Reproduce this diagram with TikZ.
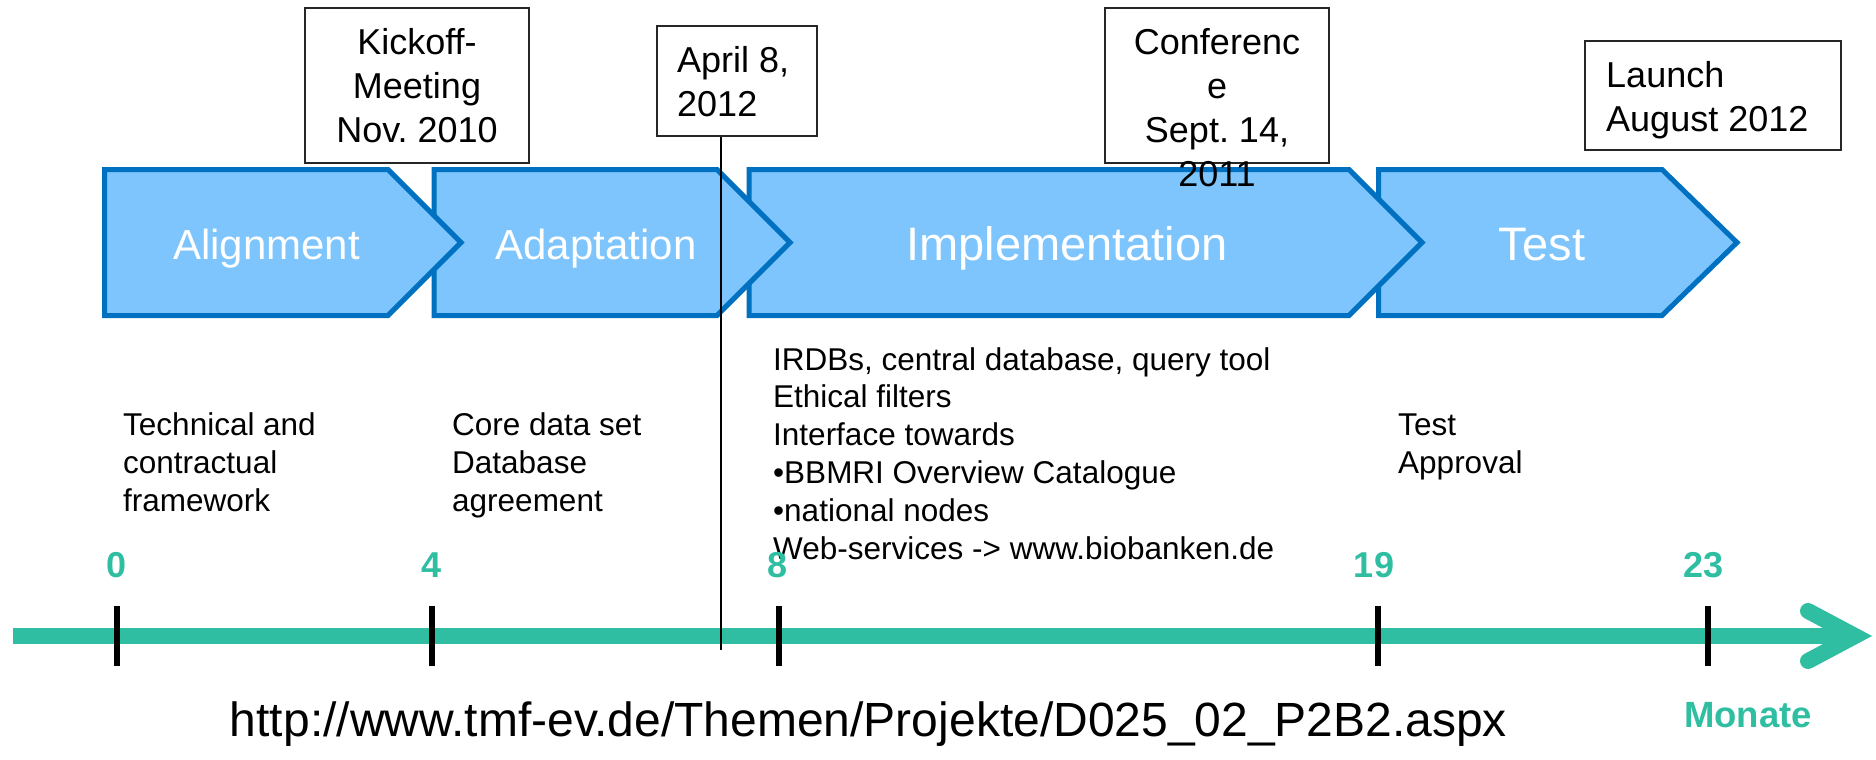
\documentclass[tikz,border=0pt]{standalone}
\usepackage{fontspec}
\setmainfont{Liberation Sans}
\frenchspacing
\definecolor{chfill}{RGB}{125,197,252}
\definecolor{chline}{RGB}{0,112,192}
\definecolor{axgreen}{RGB}{47,190,161}
\begin{document}
\frenchspacing
\begin{tikzpicture}[x=1pt,y=-1pt,
  chev/.style={fill=chfill, draw=chline, line width=5pt, line join=miter},
  chevtext/.style={text=white, inner sep=0pt, anchor=base},
  datebox/.style={draw=black!85, line width=1.6pt, fill=white, inner sep=0pt},
  boxtext/.style={inner sep=0pt, font=\fontsize{36}{44}\selectfont},
  lowtext/.style={inner sep=0pt, anchor=base west, font=\fontsize{31.5}{38}\selectfont},
  num/.style={inner sep=0pt, anchor=base, text=axgreen, font=\bfseries\fontsize{36}{40}\selectfont},
  tickmark/.style={line width=6pt},
  axis/.style={draw=axgreen, line width=16pt}
]
\useasboundingbox (0,0) rectangle (1876,760);

% chevrons (later phases underneath)
\path[chev] (1378.5,169.5) -- (1662,169.5) -- (1737,242.5) -- (1662,315.5) -- (1378.5,315.5) -- cycle;
\path[chev] (749,169.5) -- (1349,169.5) -- (1422,242.5) -- (1349,315.5) -- (749,315.5) -- cycle;
\path[chev] (434,169.5) -- (717,169.5) -- (790,242.5) -- (717,315.5) -- (434,315.5) -- cycle;
\path[chev] (104.5,169.5) -- (388,169.5) -- (461,242.5) -- (388,315.5) -- (104.5,315.5) -- cycle;

\node[chevtext, font=\fontsize{42}{50}\selectfont] (talign) at (266.5,259) {Alignment};
\node[chevtext, font=\fontsize{42}{50}\selectfont] (tadapt) at (596,259) {Adaptation};
\node[chevtext, font=\fontsize{47}{55}\selectfont] (timpl) at (1067,260) {Implementation};
\node[chevtext, font=\fontsize{47}{55}\selectfont] (ttest) at (1542,260) {Test};

% date boxes
\node[datebox, minimum width=224pt, minimum height=155pt] (kickbox) at (417,85.5) {};
\node[datebox, minimum width=160pt, minimum height=110pt] (aprilbox) at (737,81) {};
\node[datebox, minimum width=224pt, minimum height=155pt] (confbox) at (1217,85.5) {};
\node[datebox, minimum width=256pt, minimum height=109pt] (launchbox) at (1713,95.5) {};

\node[boxtext, anchor=base] (kicktxt) at (417,55) {\begin{tabular}[t]{@{}c@{}}Kickoff-\\Meeting\\Nov.\ 2010\end{tabular}};
\node[boxtext, anchor=base west] (apriltxt) at (677,72) {\begin{tabular}[t]{@{}l@{}}April 8,\\2012\end{tabular}};
\node[boxtext, anchor=base] (conftxt) at (1217,55) {\begin{tabular}[t]{@{}c@{}}Conferenc\\e\\Sept.\ 14,\\2011\end{tabular}};
\node[boxtext, anchor=base west] (launchtxt) at (1606,87) {\begin{tabular}[t]{@{}l@{}}Launch\\August 2012\end{tabular}};

% descriptions
\node[lowtext] (d1) at (123,435) {\begin{tabular}[t]{@{}l@{}}Technical and\\contractual\\framework\end{tabular}};
\node[lowtext] (d2) at (452,435) {\begin{tabular}[t]{@{}l@{}}Core data set\\Database\\agreement\end{tabular}};
\node[lowtext, font=\fontsize{31.5}{37.8}\selectfont] (d3) at (773,370) {\begin{tabular}[t]{@{}l@{}}IRDBs, central database, query tool\\Ethical filters\\Interface towards\\•BBMRI Overview Catalogue\\•national nodes\\Web-services -> www.biobanken.de\end{tabular}};
\node[lowtext] (d4) at (1398,435) {\begin{tabular}[t]{@{}l@{}}Test\\Approval\end{tabular}};

% time axis
\coordinate (axstart) at (12.7,636);
\coordinate (axend) at (1850,636);
\coordinate (headtop) at (1808,611);
\coordinate (headtip) at (1855,636);
\coordinate (headbot) at (1808,661);
\draw[axis] (axstart) -- (axend);
\draw[axis, line cap=round, line join=miter, miter limit=10] (headtop) -- (headtip) -- (headbot);

\foreach \x in {117,432,779,1378,1708} {
  \draw[tickmark] (\x,606) -- (\x,666);
}

\node[num] (n0) at (117,577) {0};
\node[num] (n4) at (432,577) {4};
\node[num] (n8) at (778,577) {8};
\node[num] (n19) at (1374,577) {19};
\node[num] (n23) at (1703,577) {23};

\node[inner sep=0pt, anchor=base west, text=axgreen, font=\bfseries\fontsize{36.5}{40}\selectfont] (monate) at (1684,727) {Monate};
\node[inner sep=0pt, anchor=base, font=\fontsize{48}{56}\selectfont] (url) at (868.5,736) {http://www.tmf-ev.de/Themen/Projekte/D025\_02\_P2B2.aspx};

% April marker line
\coordinate (marker) at (721,650);
\draw[line width=2pt] (aprilbox.south -| marker) -- (marker);
\end{tikzpicture}
\end{document}
